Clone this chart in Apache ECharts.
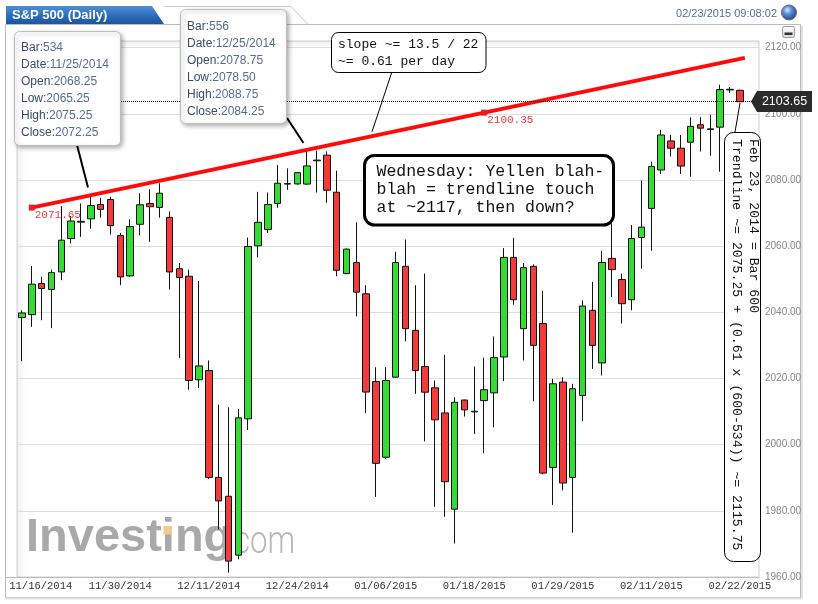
<!DOCTYPE html>
<html><head><meta charset="utf-8">
<script src="https://cdn.jsdelivr.net/npm/echarts@6/dist/echarts.min.js"></script>
<style>html,body{margin:0;padding:0;background:#fff}#c{width:818px;height:604px}</style>
</head><body><div id="c"></div>
<script>
// ---- data ----
const bars = [527,528,529,530,531,532,533,534,535,536,537,538,539,540,541,542,543,544,545,546,547,548,549,550,551,552,553,554,555,556,557,558,559,560,561,562,563,564,565,566,567,568,569,570,571,572,573,574,575,576,577,578,579,580,581,582,583,584,585,586,587,588,589,590,591,592,593,594,595,596,597,598,599,600];
const opens = [2038.4,2039.3,2048.7,2046.9,2052.2,2062.3,2067.25,2068.25,2072.6,2074.1,2063.2,2051.0,2066.6,2072.9,2071.7,2068.7,2053.2,2050.9,2019.6,2022.4,1990.1,1984.4,1966.6,2007.8,2060.1,2065.05,2072.9,2078.75,2078.8,2078.75,2085.8,2087.5,2076.3,2051.7,2055.05,2045.6,2019.1,1996.2,2020.4,2053.9,2034.55,2023.6,2017.2,2009.6,1980.5,2013.5,2009.9,2013.3,2015.65,2026.5,2056.6,2035.05,2053.9,2036.6,1993.1,2018.9,1990.1,2014.85,2040.6,2024.7,2056.3,2049.9,2043.8,2062.6,2071.4,2083.0,2091.8,2089.6,2091.4,2096.7,2095.25,2095.96,2107.2,2107.1];
const closes = [2039.8,2048.5,2047.2,2052.0,2061.8,2067.6,2067.5,2072.25,2071.1,2066.2,2050.7,2065.9,2072.5,2071.9,2076.0,2052.2,2050.5,2019.4,2023.8,1990.1,1983.0,1964.8,2008.1,2059.9,2067.2,2072.6,2079.0,2078.9,2082.2,2084.25,2086.0,2076.9,2052.7,2059.1,2046.1,2015.9,1994.35,2019.4,2055.05,2035.05,2022.4,2015.85,2007.5,1988.8,2012.8,2010.5,2010.1,2016.6,2026.3,2056.6,2043.8,2053.5,2030.0,1991.4,2018.4,1988.4,2016.9,2041.9,2030.0,2055.05,2052.9,2042.6,2062.3,2065.75,2084.1,2093.6,2089.6,2084.2,2096.2,2095.65,2095.45,2107.3,2107.4,2103.65];
const lows = [2025.2,2035.6,2037.6,2035.2,2049.7,2060.8,2062.8,2065.25,2068.6,2063.5,2048.2,2050.7,2063.3,2061.3,2068.6,2046.9,2026.2,2016.6,2017.1,1989.6,1974.4,1961.3,1965.35,2004.4,2056.6,2064.0,2071.6,2077.0,2078.6,2078.5,2076.2,2073.1,2050.9,2051.5,2038.8,2009.5,1984.2,1995.65,2020.2,2031.2,2015.35,2001.0,1981.2,1978.2,1970.1,2008.5,2003.2,1997.4,2005.25,2019.2,2042.3,2025.45,2013.1,1991.0,1981.8,1986.2,1973.4,2007.1,2022.9,2020.9,2044.6,2036.6,2040.6,2053.2,2058.6,2081.8,2087.1,2081.8,2081.0,2088.6,2087.3,2082.5,2106.3,2103.5];
const highs = [2040.6,2054.0,2050.7,2052.9,2072.1,2069.1,2072.9,2075.25,2074.6,2074.95,2064.0,2068.1,2076.0,2077.2,2079.0,2070.5,2054.9,2052.9,2049.5,2025.45,2012.1,2011.3,2010.8,2062.6,2076.4,2076.2,2084.5,2083.5,2082.4,2088.75,2088.9,2088.6,2082.8,2059.3,2067.2,2048.2,2023.4,2023.4,2058.3,2062.0,2048.2,2051.7,2019.4,2027.15,2014.35,2013.6,2023.6,2026.3,2032.7,2059.4,2062.5,2054.9,2054.5,2046.5,2019.9,2020.4,2018.4,2043.6,2049.2,2058.6,2066.9,2051.7,2066.4,2079.8,2085.55,2095.15,2093.6,2093.6,2098.9,2099.0,2099.7,2108.8,2108.1,2107.3];
const labelBars = [528,537,546,555,564,573,582,591,600];
const labelDates = ['11/16/2014','11/30/2014','12/11/2014','12/24/2014','01/06/2015','01/18/2015','01/29/2015','02/11/2015','02/22/2015'];
const trendBars = [528,574,600.5];
const trendValues = [2071.65,2100.35,2116.9];

const mono = "'Courier New','Liberation Mono',monospace";
const sans = "Arial,'Liberation Sans',sans-serif";

const chart = echarts.init(document.getElementById('c'), null, {renderer:'canvas'});
const lastClose = closes[closes.length-1];

function tipText(rows){
  return rows.map(r => '{l|'+r[0]+':}{v|'+r[1]+'}').join('\n');
}
const tipRich = {
  l:{fill:'#384c6a', fontSize:12, fontFamily:sans, lineHeight:17},
  v:{fill:'#566d92', fontSize:12, fontFamily:sans, lineHeight:17}
};

const option = {
  animation:false,
  backgroundColor:'#ffffff',
  grid:{left:17, top:41, width:742, height:536, show:true, borderColor:'#cfcfcf', borderWidth:1, backgroundColor:'transparent'},
  xAxis:{type:'value', min:526.5, max:601.94,
    axisLine:{show:true, lineStyle:{color:'#bdbdbd'}}, axisTick:{show:false}, splitLine:{show:false},
    axisLabel:{customValues:labelBars, margin:4, color:'#333', fontFamily:mono, fontSize:10.5,
      formatter:function(v){const i=labelBars.indexOf(v); const s=labelDates[i]; return i===0?'{f|'+s+'}':s;},
      rich:{f:{padding:[0,0,0,18], color:'#333', fontFamily:mono, fontSize:10.5}}}},
  yAxis:{type:'value', position:'right', min:1960, max:2122, interval:20,
    axisLine:{show:false}, axisTick:{show:false},
    splitLine:{lineStyle:{color:'#dddddd'}},
    axisLabel:{showMaxLabel:false, margin:6, color:'#858585', fontSize:10, fontFamily:sans,
      formatter:function(v){return v.toFixed(2);}}},
  series:[
    {type:'candlestick', z:2,
      data:bars.map((b,i)=>[b,opens[i],closes[i],lows[i],highs[i]]),
      barWidth:7,
      itemStyle:{color:'#35dc35', color0:'#f23c3c', borderColor:'#111', borderColor0:'#111', borderWidth:1},
      markLine:{silent:true, symbol:'none', animation:false,
        data:[{yAxis:lastClose}],
        lineStyle:{type:'dotted', color:'#000', width:1},
        label:{show:false}}},
    {type:'line', z:3,
      data:trendBars.map((b,i)=>({value:[b,trendValues[i]], symbol:i<2?'rect':'none', label:{show:i<2}})),
      symbolSize:6, lineStyle:{color:'#ff0a0a', width:4}, itemStyle:{color:'#e52222'},
      label:{show:true, position:[6,5], align:'left', verticalAlign:'top', color:'#e8393c', fontFamily:mono, fontSize:11,
        formatter:function(p){return p.value[1].toFixed(2);}}}
  ],
  graphic:[
    // outer panel
    {type:'rect', z:0, shape:{x:5.5,y:24.5,width:795,height:573}, style:{fill:'none', stroke:'#bcbcbc', lineWidth:1}},
    {type:'line', z:0, shape:{x1:6,y1:598.5,x2:802,y2:598.5}, style:{stroke:'#e2e2e2', lineWidth:2}},
    {type:'line', z:0, shape:{x1:802,y1:26,x2:802,y2:599}, style:{stroke:'#e2e2e2', lineWidth:2}},
    {type:'line', z:0, shape:{x1:6,y1:577.5,x2:17,y2:577.5}, style:{stroke:'#bdbdbd', lineWidth:1}},
    // plot inner shading
    {type:'rect', z:0, shape:{x:17.5,y:41.5,width:8,height:535}, style:{fill:{type:'linear',x:0,y:0,x2:1,y2:0,colorStops:[{offset:0,color:'rgba(0,0,0,0.06)'},{offset:1,color:'rgba(0,0,0,0)'}]}}},
    {type:'rect', z:0, shape:{x:17.5,y:41.5,width:741,height:8}, style:{fill:{type:'linear',x:0,y:0,x2:0,y2:1,colorStops:[{offset:0,color:'rgba(0,0,0,0.05)'},{offset:1,color:'rgba(0,0,0,0)'}]}}},
    // header tabs
    {type:'polyline', z:0, shape:{points:[[164,6.5],[291,6.5],[308,24.5]]}, style:{stroke:'#c8c8c8', fill:'none', lineWidth:1}},
    {type:'polygon', z:1, shape:{points:[[6,6],[152,6],[164,24],[6,24]]},
      style:{fill:{type:'linear',x:0,y:0,x2:0,y2:1,colorStops:[{offset:0,color:'#4f8fd8'},{offset:0.5,color:'#2f6fbd'},{offset:1,color:'#1b559f'}]}}},
    {type:'text', z:2, x:12, y:15, style:{text:'S&P 500 (Daily)', fill:'#fff', font:'bold 13px '+sans, textVerticalAlign:'middle'}},
    {type:'text', z:2, x:777, y:14, style:{text:'02/23/2015 09:08:02', fill:'#4d6c9c', font:'11px '+sans, textAlign:'right', textVerticalAlign:'middle'}},
    {type:'circle', z:2, shape:{cx:789,cy:12.5,r:7.5},
      style:{fill:{type:'radial',x:0.4,y:0.35,r:0.75,colorStops:[{offset:0,color:'#dbe8ff'},{offset:0.35,color:'#5b8fdc'},{offset:1,color:'#142f66'}]}, stroke:'#5a6b88', lineWidth:1}},
    {type:'rect', z:2, shape:{x:782.5,y:26.5,width:12,height:11,r:2},
      style:{fill:{type:'linear',x:0,y:0,x2:0,y2:1,colorStops:[{offset:0,color:'#ffffff'},{offset:1,color:'#d8d8d8'}]}, stroke:'#9a9a9a', lineWidth:1}},
    {type:'rect', z:3, shape:{x:784.5,y:32.5,width:8,height:2.5}, style:{fill:'#333'}},
    // watermark
    {type:'text', z:1, x:26, y:562, style:{text:'Investing', fill:'#a9a9a9', font:'bold 47px '+sans, textVerticalAlign:'bottom'}},
    {type:'rect', z:1, shape:{x:163.5,y:526,width:8,height:8.5}, style:{fill:'#f2c98f'}},
    {type:'text', z:1, x:234, y:562, scaleX:0.82, style:{text:'com', fill:'#b8b8b8', font:'300 38px Roboto, '+sans, textVerticalAlign:'bottom'}},
    // price tag
    {type:'polygon', z:100, shape:{points:[[751,101.5],[757,91],[812,91],[812,112],[757,112]]}, style:{fill:'#2b2b2b'}},
    {type:'text', z:101, x:784.5, y:101.5, style:{text:lastClose.toFixed(2), fill:'#fff', font:'12.5px '+sans, textAlign:'center', textVerticalAlign:'middle'}},
    // callout 1
    {type:'line', z:99, shape:{x1:77,y1:145,x2:88,y2:187.5}, style:{stroke:'#000', lineWidth:2}},
    {type:'rect', z:100, shape:{x:14.5,y:31.5,width:106,height:114,r:5},
      style:{fill:'#fff', stroke:'#bdbdbd', lineWidth:1, shadowBlur:4, shadowOffsetX:2, shadowOffsetY:2, shadowColor:'rgba(0,0,0,0.3)'}},
    {type:'text', z:101, x:21, y:39.5, style:{text:tipText([['Bar','534'],['Date','11/25/2014'],['Open','2068.25'],['Low','2065.25'],['High','2075.25'],['Close','2072.25']]), rich:tipRich, fontSize:12, fontFamily:sans, lineHeight:17}},
    // callout 2
    {type:'line', z:99, shape:{x1:287,y1:118,x2:303.5,y2:143}, style:{stroke:'#000', lineWidth:2}},
    {type:'rect', z:100, shape:{x:180.5,y:9.5,width:106,height:114,r:5},
      style:{fill:'#fff', stroke:'#bdbdbd', lineWidth:1, shadowBlur:4, shadowOffsetX:2, shadowOffsetY:2, shadowColor:'rgba(0,0,0,0.3)'}},
    {type:'text', z:101, x:187, y:18.5, style:{text:tipText([['Bar','556'],['Date','12/25/2014'],['Open','2078.75'],['Low','2078.50'],['High','2088.75'],['Close','2084.25']]), rich:tipRich, fontSize:12, fontFamily:sans, lineHeight:17}},
    // slope note
    {type:'line', z:99, shape:{x1:391.7,y1:72.5,x2:372,y2:131.7}, style:{stroke:'#000', lineWidth:1}},
    {type:'rect', z:100, shape:{x:331.5,y:32.5,width:154.5,height:40,r:7}, style:{fill:'#fff', stroke:'#000', lineWidth:1}},
    {type:'text', z:101, x:338, y:36.7, style:{text:'slope ~= 13.5 / 22\n~= 0.61 per day', fill:'#111', font:'13px '+mono, lineHeight:16.7}},
    // Wednesday note
    {type:'rect', z:100, shape:{x:364.5,y:155.5,width:249,height:69.5,r:10}, style:{fill:'#fff', stroke:'#000', lineWidth:3}},
    {type:'text', z:101, x:376.5, y:162.7, style:{text:'Wednesday: Yellen blah-\nblah = trendline touch\nat ~2117, then down?', fill:'#111', font:'16.5px '+mono, lineHeight:18}},
    // vertical note
    {type:'line', z:99, shape:{x1:735,y1:132,x2:740,y2:103}, style:{stroke:'#000', lineWidth:1}},
    {type:'rect', z:100, shape:{x:724.5,y:132.5,width:36,height:429,r:9}, style:{fill:'#fff', stroke:'#000', lineWidth:1}},
    {type:'text', z:101, x:753, y:139, rotation:-Math.PI/2, style:{text:'Feb 23, 2014 = Bar 600', fill:'#111', font:'13.2px '+mono, textAlign:'left', textVerticalAlign:'middle'}},
    {type:'text', z:101, x:736, y:139, rotation:-Math.PI/2, style:{text:'Trendline ~= 2075.25 + (0.61 x (600-534)) ~= 2115.75', fill:'#111', font:'13.2px '+mono, textAlign:'left', textVerticalAlign:'middle'}}
  ]
};
chart.setOption(option);
</script>
</body></html>
